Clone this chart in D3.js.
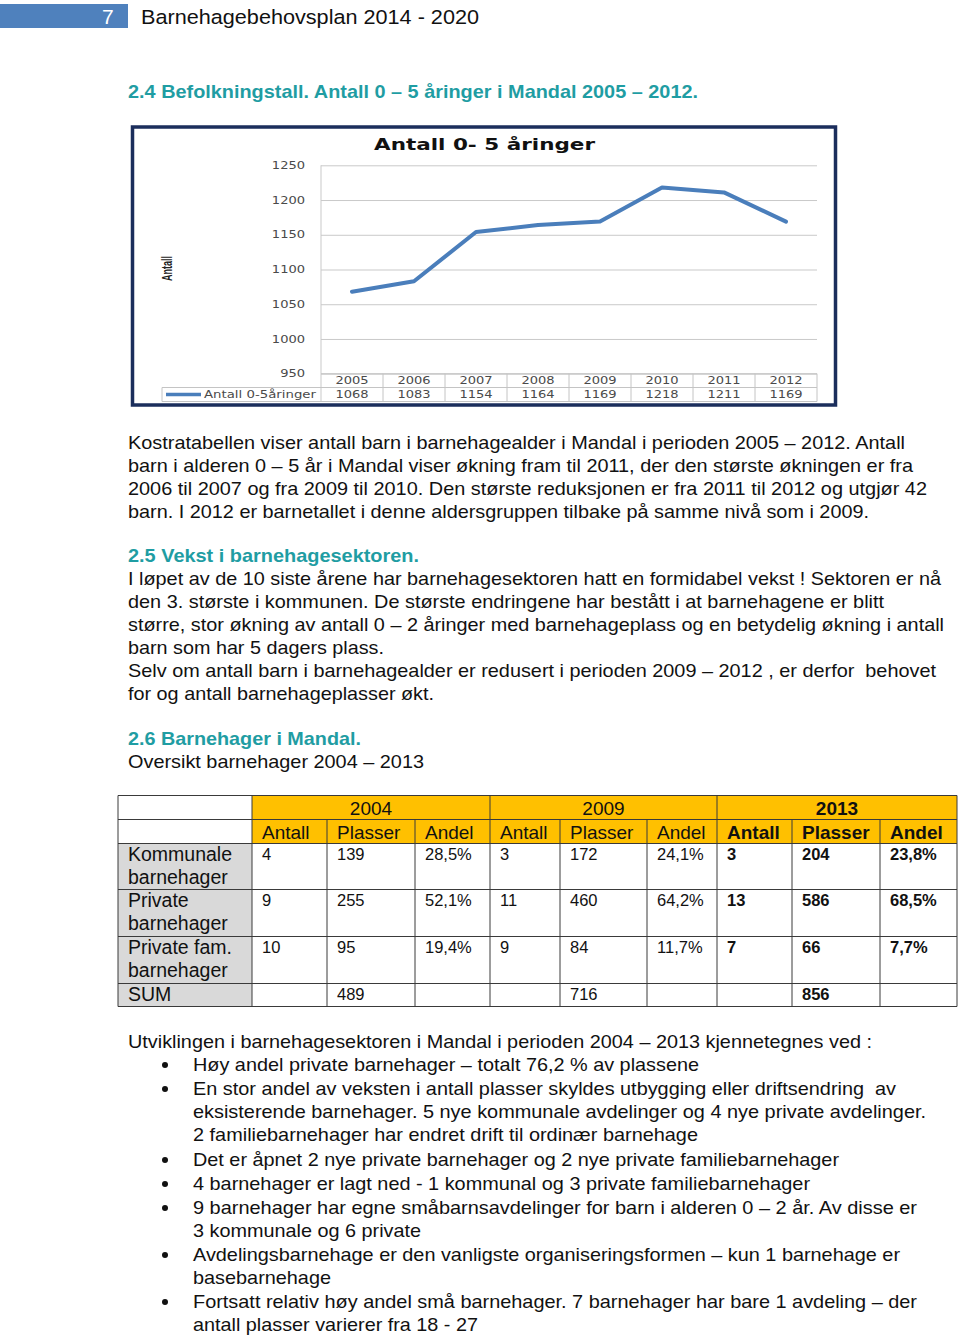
<!DOCTYPE html>
<html><head><meta charset="utf-8">
<script src="https://cdn.jsdelivr.net/npm/d3@7"></script>
<style>
html,body{margin:0;padding:0;background:#fff;}
svg text{white-space:pre;}
</style></head>
<body>
<svg id="page" width="960" height="1338"></svg>
<script>
// ---------- DATA ----------
const years = ["2005","2006","2007","2008","2009","2010","2011","2012"];
const antall = [1068,1083,1154,1164,1169,1218,1211,1169];
const yTicks = [950,1000,1050,1100,1150,1200,1250];
const seriesName = "Antall 0-5åringer";
const chartTitle = "Antall 0- 5 åringer";
const yTitle = "Antall";

const tableYears = ["2004","2009","2013"];
const tableSub = ["Antall","Plasser","Andel"];
const rowLabels = [["Kommunale","barnehager"],["Private","barnehager"],["Private fam.","barnehager"],["SUM"]];
const antall2004 = ["4","9","10",""];
const plasser2004 = ["139","255","95","489"];
const andel2004 = ["28,5%","52,1%","19,4%",""];
const antall2009 = ["3","11","9",""];
const plasser2009 = ["172","460","84","716"];
const andel2009 = ["24,1%","64,2%","11,7%",""];
const antall2013 = ["3","13","7",""];
const plasser2013 = ["204","586","66","856"];
const andel2013 = ["23,8%","68,5%","7,7%",""];

const pageNo = "7";
const docTitle = "Barnehagebehovsplan 2014 - 2020";
const h24 = "2.4 Befolkningstall. Antall 0 – 5 åringer i Mandal 2005 – 2012.";
const para1 = [
 "Kostratabellen viser antall barn i barnehagealder i Mandal i perioden 2005 – 2012. Antall",
 "barn i alderen 0 – 5 år i Mandal viser økning fram til 2011, der den største økningen er fra",
 "2006 til 2007 og fra 2009 til 2010. Den største reduksjonen er fra 2011 til 2012 og utgjør 42",
 "barn. I 2012 er barnetallet i denne aldersgruppen tilbake på samme nivå som i 2009."];
const h25 = "2.5 Vekst i barnehagesektoren.";
const para2 = [
 "I løpet av de 10 siste årene har barnehagesektoren hatt en formidabel vekst ! Sektoren er nå",
 "den 3. største i kommunen. De største endringene har bestått i at barnehagene er blitt",
 "større, stor økning av antall 0 – 2 åringer med barnehageplass og en betydelig økning i antall",
 "barn som har 5 dagers plass.",
 "Selv om antall barn i barnehagealder er redusert i perioden 2009 – 2012 , er derfor  behovet",
 "for og antall barnehageplasser økt."];
const h26 = "2.6 Barnehager i Mandal.";
const oversikt = "Oversikt barnehager 2004 – 2013";
const intro = "Utviklingen i barnehagesektoren i Mandal i perioden 2004 – 2013 kjennetegnes ved :";
const bullets = [
 ["Høy andel private barnehager – totalt 76,2 % av plassene"],
 ["En stor andel av veksten i antall plasser skyldes utbygging eller driftsendring  av",
  "eksisterende barnehager. 5 nye kommunale avdelinger og 4 nye private avdelinger.",
  "2 familiebarnehager har endret drift til ordinær barnehage"],
 ["Det er åpnet 2 nye private barnehager og 2 nye private familiebarnehager"],
 ["4 barnehager er lagt ned - 1 kommunal og 3 private familiebarnehager"],
 ["9 barnehager har egne småbarnsavdelinger for barn i alderen 0 – 2 år. Av disse er",
  "3 kommunale og 6 private"],
 ["Avdelingsbarnehage er den vanligste organiseringsformen – kun 1 barnehage er",
  "basebarnehage"],
 ["Fortsatt relativ høy andel små barnehager. 7 barnehager har bare 1 avdeling – der",
  "antall plasser varierer fra 18 - 27"]];

// ---------- LAYOUT ----------
const svg = d3.select("#page");
const BODY = "'Liberation Sans', Arial, sans-serif";
const CH = "'DejaVu Sans', Verdana, sans-serif";
const TEAL = "#1f9da3";

function fitText(sel, target){
  sel.each(function(){
    const n = this.getComputedTextLength();
    if (target>0 && Math.abs(n-target)>1) {
      d3.select(this).attr("textLength", target).attr("lengthAdjust","spacingAndGlyphs");
    }
  });
}
function line(txt, x, y, opts={}){
  const t = svg.append("text").attr("x",x).attr("y",y)
    .attr("font-family",opts.family||BODY).attr("font-size",opts.size||18.5)
    .attr("font-weight",opts.weight||"normal").attr("fill",opts.fill||"#111").text(txt);
  if (opts.end) fitText(t, opts.end - x);
  return t;
}

// header
svg.append("rect").attr("x",0).attr("y",4).attr("width",128).attr("height",24).attr("fill","#4f81bd");
line(pageNo, 102, 23.5, {size:21, fill:"#fff"});
line(docTitle, 141, 23.5, {size:20.5, end:479});

// heading 2.4
line(h24, 128, 98, {weight:"bold", fill:TEAL, size:18.5, end:698});

// ---------- CHART ----------
const frame = {x:131, y:125.5, w:706, h:281};
svg.append("rect").attr("x",frame.x+1.5).attr("y",frame.y+1.5).attr("width",frame.w-3).attr("height",frame.h-3)
  .attr("fill","#fff").attr("stroke","#1b2e5c").attr("stroke-width",3.5);

const x = d3.scaleBand().domain(years).range([321,817]).paddingInner(0).paddingOuter(0);
const y = d3.scaleLinear().domain([950,1250]).range([373.7,165.3]);

const g = svg.append("g");
// gridlines + tick labels
const ax = d3.axisLeft(y).tickValues(yTicks).tickSize(-(817-321)).tickPadding(16).tickFormat(d3.format("d"));
const axG = g.append("g").attr("transform","translate(321,0)").call(ax);
axG.select(".domain").remove();
axG.selectAll(".tick line").attr("stroke","#c9c9c9").attr("stroke-width",1);
axG.selectAll(".tick text").attr("font-family",CH).attr("font-size",9.8).attr("fill","#4a4a4a")
  .attr("x",-16).each(function(){ fitText(d3.select(this), this.getComputedTextLength()*1.33); });
// left plot border
g.append("line").attr("x1",321).attr("x2",321).attr("y1",165.3).attr("y2",401.5).attr("stroke","#c9c9c9");

// data table
const tTop = 373.7, tMid = 387.5, tBot = 401.5;
g.append("line").attr("x1",321).attr("x2",817).attr("y1",tTop).attr("y2",tTop).attr("stroke","#c4c4c4");
g.append("line").attr("x1",162).attr("x2",817).attr("y1",tMid).attr("y2",tMid).attr("stroke","#c4c4c4");
g.append("line").attr("x1",162).attr("x2",817).attr("y1",tBot).attr("y2",tBot).attr("stroke","#c4c4c4");
g.append("line").attr("x1",162).attr("x2",162).attr("y1",tMid).attr("y2",tBot).attr("stroke","#c4c4c4");
g.selectAll(".vcol").data(years).enter().append("line")
  .attr("x1",d=>x(d)+x.bandwidth()).attr("x2",d=>x(d)+x.bandwidth())
  .attr("y1",tTop).attr("y2",tBot).attr("stroke","#c4c4c4");
g.selectAll(".yr").data(years).enter().append("text")
  .attr("x",d=>x(d)+x.bandwidth()/2).attr("y",tTop+10.3).attr("text-anchor","middle")
  .attr("font-family",CH).attr("font-size",9.8).attr("fill","#4a4a4a").text(d=>d)
  .each(function(){ fitText(d3.select(this), this.getComputedTextLength()*1.33); });
g.selectAll(".val").data(antall).enter().append("text")
  .attr("x",(d,i)=>x(years[i])+x.bandwidth()/2).attr("y",tMid+10.3).attr("text-anchor","middle")
  .attr("font-family",CH).attr("font-size",9.8).attr("fill","#4a4a4a").text(d=>d)
  .each(function(){ fitText(d3.select(this), this.getComputedTextLength()*1.33); });
// legend
g.append("line").attr("x1",166).attr("x2",201).attr("y1",394.5).attr("y2",394.5)
  .attr("stroke","#4a7ebb").attr("stroke-width",3.5);
const lt = g.append("text").attr("x",204).attr("y",398).attr("font-family",CH).attr("font-size",9.8)
  .attr("fill","#4a4a4a").text(seriesName);
fitText(lt, 112);

// line
const lineGen = d3.line().x((d,i)=>x(years[i])+x.bandwidth()/2).y(d=>y(d));
g.append("path").datum(antall).attr("d",lineGen).attr("fill","none")
  .attr("stroke","#4a7ebb").attr("stroke-width",4).attr("stroke-linejoin","round").attr("stroke-linecap","round");

// chart title
const ct = g.append("text").attr("x",374).attr("y",150).attr("font-family",CH).attr("font-weight","bold")
  .attr("font-size",15.5).attr("fill","#111").text(chartTitle);
fitText(ct, 221);
// y title
const yt = g.append("text").attr("transform","translate(172,281) rotate(-90)").attr("font-family",BODY)
  .attr("font-weight","bold").attr("font-size",14.5).attr("fill","#222").text(yTitle);
fitText(yt, 25);

// ---------- BODY TEXT ----------
const p1Ends = [905,913,927,869];
para1.forEach((t,i)=>line(t,128,448.5+23*i,{end:p1Ends[i]}));
line(h25,128,562,{weight:"bold",fill:TEAL,end:419});
const p2Ends = [941,884,944,384,936,434];
para2.forEach((t,i)=>line(t,128,585+23*i,{end:p2Ends[i]}));
line(h26,128,745,{weight:"bold",fill:TEAL,end:361});
line(oversikt,128,768,{end:424});

// ---------- TABLE ----------
const colX = [118,252,327,415,490,560,647,717,792,880,957];
const rowY = [795.5,819.5,843.5,889.5,936.5,983.5,1006.5];
const tg = svg.append("g");
// fills
tg.append("rect").attr("x",colX[1]).attr("y",rowY[0]).attr("width",colX[10]-colX[1]).attr("height",rowY[2]-rowY[0]).attr("fill","#ffc000");
tg.append("rect").attr("x",colX[0]).attr("y",rowY[2]).attr("width",colX[1]-colX[0]).attr("height",rowY[6]-rowY[2]).attr("fill","#d9d9d9");
// borders
const LC = "#3a3a3a";
rowY.forEach((yy,i)=>tg.append("line").attr("x1",colX[0]).attr("x2",colX[10]).attr("y1",yy).attr("y2",yy).attr("stroke",LC).attr("stroke-width",1));
colX.forEach((xx,i)=>{
  const isGroup = [0,1,4,7,10].includes(i);
  tg.append("line").attr("x1",xx).attr("x2",xx).attr("y1",isGroup?rowY[0]:rowY[1]).attr("y2",rowY[6]).attr("stroke",LC).attr("stroke-width",1);
});
// year headers
tableYears.forEach((yr,k)=>{
  const a = colX[1+3*k], b = colX[4+3*k];
  tg.append("text").attr("x",(a+b)/2).attr("y",814.5).attr("text-anchor","middle")
    .attr("font-family",BODY).attr("font-size",19).attr("font-weight",k===2?"bold":"normal").attr("fill","#111").text(yr);
  tableSub.forEach((s,j)=>{
    tg.append("text").attr("x",colX[1+3*k+j]+10).attr("y",838.5)
      .attr("font-family",BODY).attr("font-size",19).attr("font-weight",k===2?"bold":"normal").attr("fill","#111").text(s);
  });
});
// row labels
rowLabels.forEach((lbl,r)=>{
  lbl.forEach((t,j)=>{
    tg.append("text").attr("x",128).attr("y",rowY[2+r]+17+23*j)
      .attr("font-family",BODY).attr("font-size",19.5).attr("fill","#111").text(t);
  });
});
// values
const cols = [antall2004,plasser2004,andel2004,antall2009,plasser2009,andel2009,antall2013,plasser2013,andel2013];
cols.forEach((arr,c)=>{
  arr.forEach((v,r)=>{
    if(!v) return;
    tg.append("text").attr("x",colX[1+c]+10).attr("y",rowY[2+r]+16.5)
      .attr("font-family",BODY).attr("font-size",16.5).attr("font-weight",c>=6?"bold":"normal")
      .attr("fill","#111").text(v);
  });
});

// ---------- BULLETS ----------
line(intro,128,1048,{end:872});
const bEnds = [[699],[896,926,698],[839],[810],[917,421],[900,331],[917,478]];
const bY = [[1071],[1095,1118,1141],[1166],[1190],[1214,1237],[1261,1284],[1308,1331]];
bullets.forEach((b,i)=>{
  svg.append("circle").attr("cx",165).attr("cy",bY[i][0]-6).attr("r",3).attr("fill","#111");
  b.forEach((t,j)=>line(t,193,bY[i][j],{end:bEnds[i][j]}));
});
</script>
</body></html>
